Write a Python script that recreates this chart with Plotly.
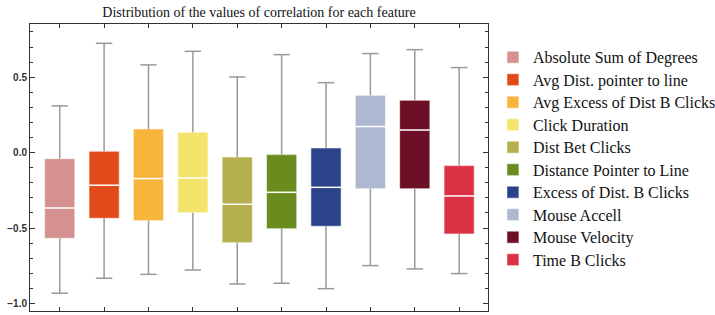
import plotly.graph_objects as go

features = ["Absolute Sum of Degrees", "Avg Dist. pointer to line", "Avg Excess of Dist B Clicks",
            "Click Duration", "Dist Bet Clicks", "Distance Pointer to Line",
            "Excess of Dist. B Clicks", "Mouse Accell", "Mouse Velocity", "Time B Clicks"]
lower_whisker = [-0.932, -0.833, -0.807, -0.778, -0.871, -0.866, -0.902, -0.749, -0.771, -0.802]
q1 = [-0.568, -0.435, -0.451, -0.398, -0.597, -0.504, -0.488, -0.239, -0.239, -0.539]
median = [-0.367, -0.216, -0.172, -0.168, -0.342, -0.263, -0.230, 0.173, 0.150, -0.287]
q3 = [-0.040, 0.009, 0.157, 0.135, -0.029, -0.013, 0.031, 0.380, 0.347, -0.086]
upper_whisker = [0.310, 0.725, 0.582, 0.672, 0.502, 0.650, 0.464, 0.657, 0.683, 0.564]
colors = ["#D4918F", "#E34A1A", "#F7B53C", "#F4E46C", "#B5AF50",
          "#6A8C1E", "#2B4489", "#AEB8D0", "#6C0F27", "#DC3245"]

BOX_W = 0.68
CAP_W = 0.37
FIG_W = 725  # a few px wider than the 715 window so the legend is not pushed left; overflow hidden

fig = go.Figure()
# box bodies (bars from q1 to q3)
for i, name in enumerate(features):
    fig.add_trace(go.Bar(
        x=[i], base=[q1[i]], y=[q3[i] - q1[i]], width=BOX_W,
        name='<span style="font-size:16px">' + name + '</span>',
        marker=dict(color=colors[i], line=dict(color="rgba(255,255,255,0.55)", width=1)),
        hoverinfo="skip"))

# whiskers and caps built from the data
wx, wy = [], []
for i in range(len(features)):
    wx += [i, i, None, i - CAP_W / 2, i + CAP_W / 2, None,
           i, i, None, i - CAP_W / 2, i + CAP_W / 2, None]
    wy += [q3[i], upper_whisker[i], None, upper_whisker[i], upper_whisker[i], None,
           q1[i], lower_whisker[i], None, lower_whisker[i], lower_whisker[i], None]
fig.add_trace(go.Scatter(x=wx, y=wy, mode="lines", line=dict(color="#9a9a9a", width=1.5),
                         showlegend=False, hoverinfo="skip"))

# medians
mx, my = [], []
for i in range(len(features)):
    mx += [i - BOX_W / 2, i + BOX_W / 2, None]
    my += [median[i], median[i], None]
fig.add_trace(go.Scatter(x=mx, y=my, mode="lines", line=dict(color="white", width=1.5),
                         showlegend=False, hoverinfo="skip"))

axis_common = dict(showline=True, linecolor="#333", linewidth=1, mirror="ticks",
                   ticks="inside", tickcolor="#333", showgrid=False, zeroline=False)
fig.update_layout(
    width=FIG_W, height=315, barmode="overlay",
    paper_bgcolor="white", plot_bgcolor="white",
    margin=dict(l=30, r=FIG_W - 492, t=24, b=4),
    title=dict(text="Distribution of the values of correlation for each feature",
               x=0.5, xref="paper", xanchor="center", y=1 - 12 / 315, yanchor="middle",
               font=dict(family="Liberation Serif", size=14, color="#111")),
    xaxis=dict(range=[-0.67, 9.65], tickmode="array", tickvals=list(range(10)),
               showticklabels=False, ticklen=4, **axis_common),
    yaxis=dict(range=[-1.05, 0.853], dtick=0.5, tickformat=".1f", ticklen=5,
               tickfont=dict(family="Liberation Sans", size=10, color="#333", weight="bold"),
               minor=dict(ticks="inside", dtick=0.1, ticklen=3, tickcolor="#333"),
               **axis_common),
    legend=dict(x=1.0108, xanchor="left", y=0.941, yanchor="top",
                font=dict(family="Liberation Serif", size=15, color="#111"),
                itemwidth=30, bgcolor="rgba(0,0,0,0)", traceorder="normal"),
    showlegend=True,
)
fig.write_html("out.html", config={"displayModeBar": False},
               post_script="document.body.style.margin='0';"
                           "document.body.style.overflow='hidden';"
                           "document.documentElement.style.overflow='hidden';")
